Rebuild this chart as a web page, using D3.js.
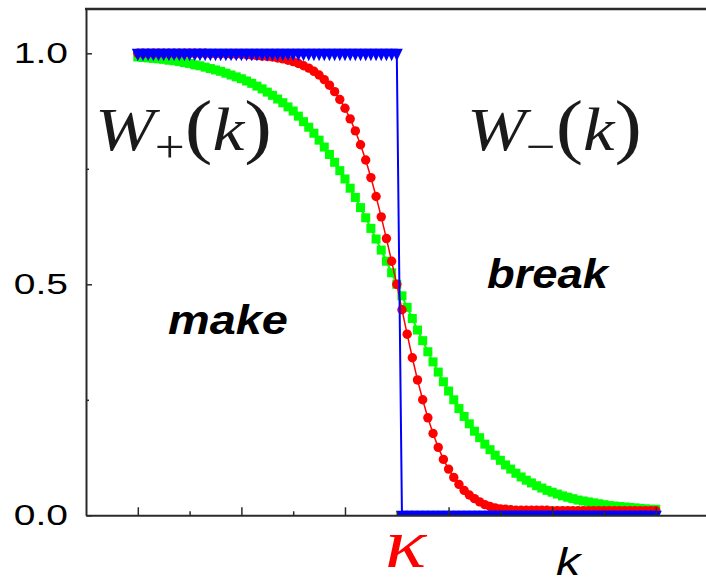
<!DOCTYPE html>
<html>
<head>
<meta charset="utf-8">
<script src="https://cdn.jsdelivr.net/npm/d3@7"></script>
<style>
  body { margin: 0; background: #fff; }
  svg { display: block; }
</style>
</head>
<body>
<script>
// sampling grid along k: 0 .. 5 in steps of 0.05 (101 points)
const kValues = d3.range(101).map(i => +(i * 0.05).toFixed(2));

// blue: sharp step at kappa (T = 0)
const blueStep = [
  1,1,1,1,1,1,1,1,1,1,
  1,1,1,1,1,1,1,1,1,1,
  1,1,1,1,1,1,1,1,1,1,
  1,1,1,1,1,1,1,1,1,1,
  1,1,1,1,1,1,1,1,1,1,
  1,0,0,0,0,0,0,0,0,0,
  0,0,0,0,0,0,0,0,0,0,
  0,0,0,0,0,0,0,0,0,0,
  0,0,0,0,0,0,0,0,0,0,
  0,0,0,0,0,0,0,0,0,0,
  0
];

// red: narrow smooth crossover
const redValues = [
  1,1,1,1,1,1,1,1,1,1,
  1,1,1,1,0.999,0.999,0.999,0.999,0.998,0.998,
  0.998,0.997,0.996,0.995,0.994,0.993,0.992,0.990,0.988,0.985,
  0.982,0.978,0.973,0.968,0.961,0.953,0.943,0.931,0.917,0.900,
  0.881,0.858,0.832,0.802,0.769,0.731,0.690,0.646,0.599,0.550,
  0.500,0.445,0.392,0.341,0.293,0.250,0.211,0.177,0.147,0.121,
  0.100,0.082,0.067,0.054,0.044,0.036,0.029,0.023,0.019,0.016,
  0.014,0.013,0.012,0.011,0.011,0.011,0.011,0.011,0.011,0.011,
  0.010,0.010,0.010,0.010,0.010,0.010,0.010,0.010,0.010,0.010,
  0.010,0.010,0.010,0.010,0.010,0.010,0.010,0.010,0.010,0.010,
  0.010
];

// green: broad crossover
const greenValues = [
  0.992,0.991,0.990,0.989,0.988,0.987,0.985,0.984,0.982,0.980,
  0.978,0.975,0.973,0.970,0.967,0.964,0.961,0.957,0.953,0.949,
  0.945,0.940,0.935,0.929,0.923,0.916,0.909,0.901,0.893,0.884,
  0.875,0.864,0.852,0.840,0.827,0.812,0.797,0.781,0.764,0.746,
  0.728,0.708,0.688,0.666,0.644,0.621,0.598,0.574,0.550,0.525,
  0.500,0.475,0.450,0.426,0.401,0.378,0.354,0.332,0.310,0.289,
  0.269,0.250,0.231,0.214,0.198,0.182,0.168,0.154,0.142,0.130,
  0.119,0.109,0.100,0.091,0.083,0.076,0.070,0.064,0.059,0.054,
  0.050,0.046,0.042,0.039,0.036,0.033,0.031,0.029,0.027,0.025,
  0.023,0.021,0.020,0.019,0.018,0.017,0.016,0.015,0.014,0.013,
  0.013
];

// axis ticks
const yMajorTicks = [0, 0.5, 1.0];
const yMinorTicks = [0.25, 0.75];
const xMajorTicks = [0, 1, 2, 3, 4, 5];
const xMinorTicks = [0.5, 1.5, 2.5, 3.5, 4.5, 5.5];

const W = 706, H = 583;
const frame = {left: 86, right: 720, top: 9, bottom: 515.3};

const svg = d3.select("body").append("svg")
  .attr("width", W)
  .attr("height", H);

const xScale = d3.scaleLinear().domain([-0.5, 5.62]).range([frame.left, frame.right]);
const yScale = d3.scaleLinear().domain([0, 1.0959]).range([frame.bottom, frame.top]);

// clip data to the frame
svg.append("clipPath").attr("id", "plotClip")
  .append("rect")
  .attr("x", frame.left).attr("y", frame.top)
  .attr("width", frame.right - frame.left)
  .attr("height", frame.bottom - frame.top);

const plot = svg.append("g").attr("clip-path", "url(#plotClip)");

const toPoints = vals => vals.map((v, i) => ({k: kValues[i], v: v}));
const line = d3.line().x(d => xScale(d.k)).y(d => yScale(d.v));

// green line + squares
plot.append("path")
  .datum(toPoints(greenValues))
  .attr("d", line)
  .attr("fill", "none")
  .attr("stroke", "#00ff00")
  .attr("stroke-width", 2);
plot.append("g").selectAll("rect")
  .data(toPoints(greenValues))
  .join("rect")
  .attr("x", d => xScale(d.k) - 4.5)
  .attr("y", d => yScale(d.v) - 4.5)
  .attr("width", 9)
  .attr("height", 9)
  .attr("fill", "#00ff00");

// red line + dots
plot.append("path")
  .datum(toPoints(redValues))
  .attr("d", line)
  .attr("fill", "none")
  .attr("stroke", "#ff0000")
  .attr("stroke-width", 1.5);
plot.append("g").selectAll("circle")
  .data(toPoints(redValues))
  .join("circle")
  .attr("cx", d => xScale(d.k))
  .attr("cy", d => yScale(d.v))
  .attr("r", 4.7)
  .attr("fill", "#ff0000");

// blue line + down triangles
plot.append("path")
  .datum(toPoints(blueStep))
  .attr("d", line)
  .attr("fill", "none")
  .attr("stroke", "#0000ff")
  .attr("stroke-width", 2);
plot.append("g").selectAll("path")
  .data(toPoints(blueStep))
  .join("path")
  .attr("d", "M-6,-4.5L6,-4.5L0,8Z")
  .attr("transform", d => `translate(${xScale(d.k)},${yScale(d.v)})`)
  .attr("fill", "#0000ff");

// axes
const axisColor = "#2a2a2a";

svg.append("g")
  .attr("transform", `translate(0,${frame.bottom})`)
  .call(d3.axisBottom(xScale).tickValues(xMajorTicks).tickSizeInner(-8).tickSizeOuter(0).tickFormat(""));
svg.append("g")
  .attr("transform", `translate(0,${frame.bottom})`)
  .call(d3.axisBottom(xScale).tickValues(xMinorTicks).tickSizeInner(-4).tickSizeOuter(0).tickFormat(""))
  .call(g => g.select(".domain").remove());

const yAxisG = svg.append("g")
  .attr("transform", `translate(${frame.left},0)`)
  .call(d3.axisLeft(yScale).tickValues(yMajorTicks).tickSizeInner(-6).tickSizeOuter(0)
        .tickPadding(18).tickFormat(d3.format(".1f")));
svg.append("g")
  .attr("transform", `translate(${frame.left},0)`)
  .call(d3.axisLeft(yScale).tickValues(yMinorTicks).tickSizeInner(-3).tickSizeOuter(0).tickFormat(""))
  .call(g => g.select(".domain").remove());

svg.selectAll(".domain").attr("stroke", axisColor).attr("stroke-width", 2);
svg.selectAll(".tick line").attr("stroke", axisColor).attr("stroke-width", 1.5);

yAxisG.selectAll("text")
  .attr("x", -18 / 1.3)
  .attr("transform", "scale(1.3,1)")
  .attr("fill", "#000")
  .style("font-family", "'Liberation Sans', Arial, sans-serif")
  .style("font-size", "30px");

// top border
svg.append("line")
  .attr("x1", frame.left - 1).attr("x2", frame.right)
  .attr("y1", frame.top).attr("y2", frame.top)
  .attr("stroke", axisColor)
  .attr("stroke-width", 2.5);

// labels: fit each one horizontally between left and right edges
function placeText(sel, left, right, baseline) {
  const b = sel.node().getBBox();
  const s = (right - left) / b.width;
  sel.attr("transform", `translate(${left - b.x * s},${baseline}) scale(${s},1)`);
}

function wLabel(sign, left, right) {
  const t = svg.append("text")
    .style("font-family", "'Liberation Serif', 'Times New Roman', serif")
    .style("font-size", "62px")
    .attr("fill", "#1a1a1a");
  t.append("tspan").style("font-style", "italic").text("W");
  t.append("tspan").style("font-size", "46px").attr("dy", 12).text(sign);
  t.append("tspan").style("font-size", "72px").attr("dy", -12).text("(");
  t.append("tspan").style("font-style", "italic").text("k");
  t.append("tspan").style("font-size", "72px").text(")");
  placeText(t, left, right, 150);
}
wLabel("+", 95, 272);
wLabel("\u2212", 467, 642);

const boldItalic = t => t
  .style("font-family", "'Liberation Sans', Arial, sans-serif")
  .style("font-weight", "bold")
  .style("font-style", "italic")
  .style("font-size", "40px")
  .attr("fill", "#000");

placeText(svg.append("text").call(boldItalic).text("make"), 168, 288, 334);
placeText(svg.append("text").call(boldItalic).text("break"), 487, 610, 288);

const kappa = svg.append("text")
  .style("font-family", "'Liberation Serif', 'Times New Roman', serif")
  .style("font-style", "italic")
  .style("font-size", "70px")
  .attr("fill", "#ff0000")
  .text("\u03ba");
placeText(kappa, 385, 428, 567);

const kLabel = svg.append("text")
  .style("font-family", "'Liberation Sans', Arial, sans-serif")
  .style("font-style", "italic")
  .style("font-size", "38px")
  .attr("fill", "#000")
  .text("k");
placeText(kLabel, 556, 583, 575);
</script>
</body>
</html>
